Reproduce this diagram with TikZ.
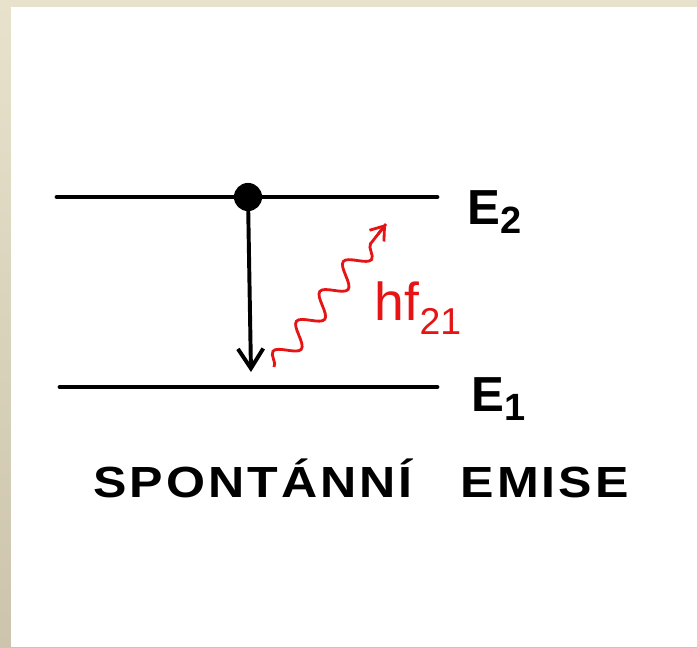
\documentclass[tikz,border=0pt]{standalone}
\usepackage{fontspec}
\setmainfont{Liberation Sans}
\usepackage{xcolor}
\definecolor{paper-beige}{RGB}{232,226,204}
\definecolor{paper-dark}{RGB}{204,196,172}
\definecolor{pen-red}{RGB}{230,20,20}
\usetikzlibrary{arrows.meta,decorations.pathmorphing,calc}
\newcommand{\levelsub}[1]{\raisebox{-7pt}{\fontsize{27}{27}\selectfont #1}}

\begin{document}
\begin{tikzpicture}
[
  x=0.025cm, y=-0.025cm,
  level/.style={line width=3.4pt, line cap=round},
  drop/.style={line width=2.8pt, -{Straight Barb[length=14pt,width=18pt,line width=2.8pt]}},
  wave/.style={draw=pen-red, line width=2pt,
    decorate, decoration={snake, amplitude=7.5pt, segment length=27pt, post length=10pt}},
  label/.style={font=\bfseries\fontsize{35}{35}\selectfont, anchor=base west},
]
% paper
\shade[top color=paper-beige, bottom color=paper-dark] (0,0) rectangle (697,647);
\fill[white] (11,7) rectangle (697,647);
\useasboundingbox (0,0) rectangle (697,647);

% energy levels
\coordinate (e2l) at (57,197);
\coordinate (e2r) at (437,197);
\coordinate (e1l) at (60,387);
\coordinate (e1r) at (437,387);
\draw[level] (e2l) -- (e2r);
\draw[level] (e1l) -- (e1r);
\node[label] (E2) at (463,224) {E\levelsub{2}};
\node[label] (E1) at (467,411) {E\levelsub{1}};

% electron and its drop
\node[circle,fill=black,inner sep=0pt,minimum size=20pt] (dot) at (248,197) {};
\coordinate (land) at (251,372);
\draw[drop] (dot.center) -- (land);

% emitted photon
\coordinate (w0) at (274,367);
\coordinate (w1) at (386,224);
\draw[wave] (w0) -- (w1);
\draw[pen-red, line width=2pt, -{Straight Barb[length=9pt,width=13pt,line width=2pt]}]
  ($(w0)!0.93!(w1)$) -- (w1);
\node[text=pen-red, font=\fontsize{38}{38}\selectfont, anchor=base west] (hf) at (370,320) {hf\textsubscript{21}};

% caption
\node[font=\bfseries\fontsize{31}{31}\selectfont\addfontfeature{LetterSpace=7,FakeStretch=1.15}, anchor=base] (title) at (361,497) {SPONTÁNNÍ\hspace{1.1em}EMISE};
\end{tikzpicture}
\end{document}
